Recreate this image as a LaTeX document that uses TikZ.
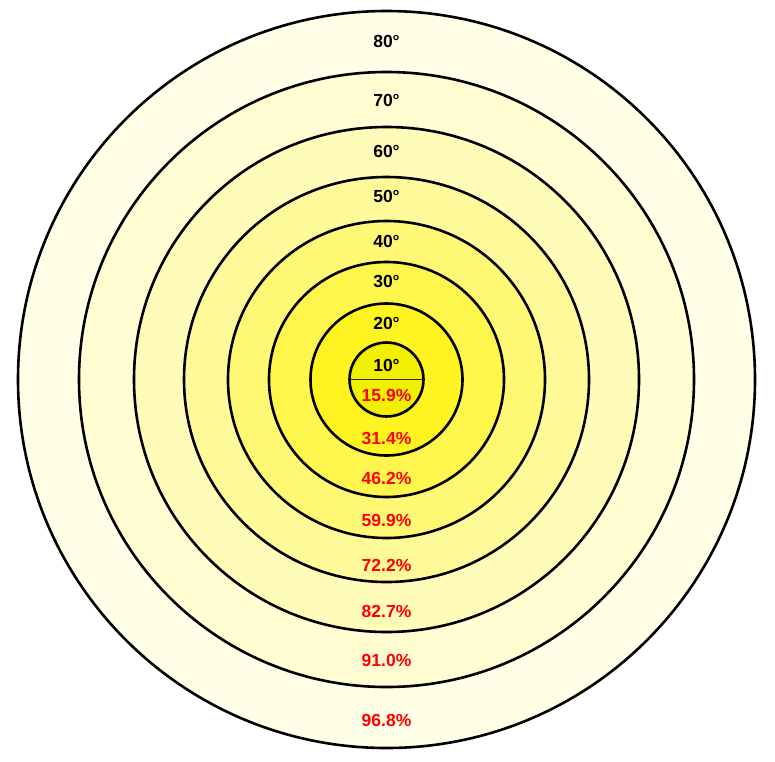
\documentclass[tikz,border=0pt]{standalone}
\usepackage{fontspec}
\setmainfont{Liberation Sans}
\begin{document}
\begin{tikzpicture}[x=1pt,y=-1pt,
  ring/.style={draw=black,line width=2.6pt},
  deg/.style={font=\fontsize{17.5}{20}\selectfont\bfseries,text=black,inner sep=0pt},
  pct/.style={font=\fontsize{17.5}{20}\selectfont\bfseries,text=pctred,inner sep=0pt}]
\definecolor{pctred}{RGB}{255,0,0}
\definecolor{c1}{RGB}{240,240,0}
\useasboundingbox (0,0) rectangle (775,761);
\fill[white] (0,0) rectangle (775,761);
\coordinate (c) at (386.5,379.5);
\fill[yellow!10!white, ring] (c) circle (368.5);
\fill[yellow!18!white, ring] (c) circle (307.5);
\fill[yellow!28!white, ring] (c) circle (252.5);
\fill[yellow!40!white, ring] (c) circle (202.5);
\fill[yellow!54!white, ring] (c) circle (158.5);
\fill[yellow!70!white, ring] (c) circle (117.5);
\fill[yellow!87!white, ring] (c) circle (76);
\fill[c1, ring] (c) circle (37);
\coordinate (hl) at (349.5,379.5);
\coordinate (hr) at (423.5,379.5);
\draw[line width=1pt,black!85] (hl) -- (hr);
\node[deg] (d80) at (386.5,41.7) {80°};
\node[deg] (d70) at (386.5,100.5) {70°};
\node[deg] (d60) at (386.5,151.7) {60°};
\node[deg] (d50) at (386.5,196.7) {50°};
\node[deg] (d40) at (386.5,241.7) {40°};
\node[deg] (d30) at (386.5,281.7) {30°};
\node[deg] (d20) at (386.5,323.3) {20°};
\node[deg] (d10) at (386.5,365) {10°};
\node[pct] (p1) at (386.5,395) {15.9\%};
\node[pct] (p2) at (386.5,438.3) {31.4\%};
\node[pct] (p3) at (386.5,478.3) {46.2\%};
\node[pct] (p4) at (386.5,520) {59.9\%};
\node[pct] (p5) at (386.5,565) {72.2\%};
\node[pct] (p6) at (386.5,611.7) {82.7\%};
\node[pct] (p7) at (386.5,660) {91.0\%};
\node[pct] (p8) at (386.5,720) {96.8\%};
\end{tikzpicture}
\end{document}
